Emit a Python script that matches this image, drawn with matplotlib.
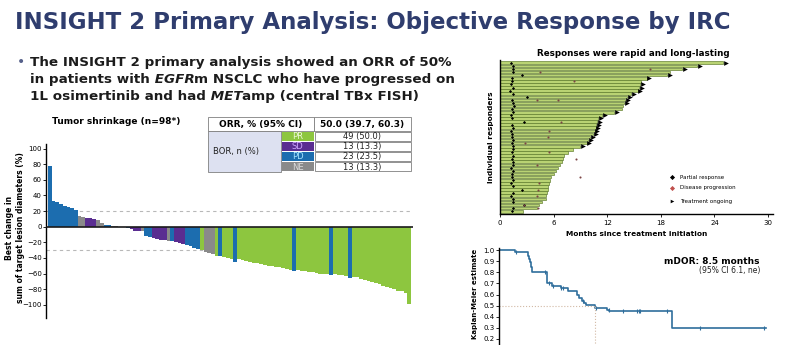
import matplotlib
matplotlib.use('Agg')
import numpy as np
import matplotlib.pyplot as plt
from matplotlib.patches import Rectangle

W, H = 785, 345

# best overall response and best % change in target lesions, sorted high -> low
wf_bor = (['PD'] * 8 + ['NE', 'NE', 'SD', 'SD', 'SD', 'NE', 'NE', 'PD', 'PD',
           'NE', 'NE', 'NE', 'NE', 'PD', 'SD', 'SD', 'SD', 'NE', 'PD', 'PD',
           'SD', 'SD', 'SD', 'SD', 'NE', 'PD', 'SD', 'SD', 'SD', 'PD', 'PD',
           'PD', 'PD', 'PR', 'NE', 'NE', 'NE', 'PR', 'PD', 'PR', 'PR', 'PR',
           'PD'] + ['PR'] * 15 + ['PD'] + ['PR'] * 9 + ['PD'] + ['PR'] * 4
          + ['PD'] + ['PR'] * 16)
wf_change = [78, 33, 32, 29, 26, 25, 24, 22, 14, 13, 11, 11, 10, 8, 5, 2, 2,
             1, 0.5, -0.5, -1, -2, -3, -5, -5, -6, -12, -13, -15, -16, -17,
             -17, -18, -18, -20, -21, -22, -24, -25, -27, -28, -30, -32, -34,
             -35, -37, -38, -39, -40, -41, -45, -42, -43, -44, -45, -46, -47,
             -48, -49, -50, -50, -51, -52, -53, -54, -55, -57, -56, -57, -57,
             -58, -58, -59, -60, -60, -61, -62, -61, -62, -62, -63, -66, -64,
             -65, -67, -68, -70, -71, -72, -74, -76, -77, -78, -80, -82, -83,
             -85, -99]
bor_order = ['PR', 'SD', 'PD', 'NE']
orr_ci = '50.0 (39.7, 60.3)'

# duration of treatment per responder (months), top -> bottom
dur_months = [25.0, 22.1, 20.4, 19.0, 18.7, 16.4, 15.8, 15.7, 15.6, 15.4,
              14.7, 14.2, 14.0, 13.9, 13.8, 13.7, 12.8, 11.4, 11.0, 10.9,
              10.8, 10.7, 10.6, 10.4, 10.1, 9.9, 9.7, 9.0, 8.2, 7.6, 7.2, 7.0,
              6.9, 6.7, 6.5, 6.3, 6.1, 5.7, 5.6, 5.5, 5.4, 5.4, 5.3, 5.2, 5.1,
              4.7, 4.4, 4.1, 2.6]
ongoing = [1, 1, 1, 0, 1, 1, 0, 1, 1, 1, 1, 1, 1, 1, 0, 0, 1, 1, 1, 1, 1, 1,
           1, 1, 1, 1, 1, 1] + [0] * 21
pr_time = [1.2, 1.4, 1.4, 1.4, 2.5, 1.3, 1.3, 1.2, 1.4, 1.1, 1.4, 3.0, 1.3,
           1.5, 1.6, 1.3, 1.5, 1.2, 1.3, 2.7, 1.3, 1.4, 1.2, 1.3, 1.3, 1.4,
           1.3, 1.4, 1.5, 1.3, 1.4, 1.3, 1.4, 1.4, 1.2, 1.4, 1.3, 1.3, 1.4,
           1.2, 1.4, 2.5, 1.4, 1.2, 1.5, 1.5, 2.7, 1.4, 1.3]
prog_row = [2, 3, 6, 12, 12, 19, 22, 24, 26, 29, 31, 33, 37, 39, 41, 43, 46, 47]
prog_time = [16.8, 4.5, 8.3, 4.1, 6.5, 6.8, 5.5, 5.4, 2.8, 5.5, 8.5, 4.1, 9.0,
             4.4, 4.3, 4.1, 2.7, 4.2]

# Kaplan-Meier duration of response
km_t = [0, 1.42, 2.6, 2.69, 2.74, 2.83, 2.9, 2.95, 4.22, 4.28, 4.67, 5.46,
        6.14, 6.9, 7.1, 7.32, 7.5, 7.7, 8.5, 9.54, 9.77, 15.3]
km_s = [1.0, 0.98, 0.95, 0.92, 0.89, 0.85, 0.82, 0.80, 0.75, 0.70, 0.68,
        0.66, 0.63, 0.60, 0.57, 0.54, 0.52, 0.51, 0.48, 0.46, 0.45, 0.30]
km_end = 23.6
km_censor = [1.5, 4.1, 4.45, 4.75, 5.5, 5.7, 7.4, 8.6, 9.7, 11.0, 12.2, 12.4,
             12.5, 14.9, 17.8, 23.4]
km_median = 8.5
km_ci = '(95% CI 6.1, ne)'

bor_colors = {'PR': '#8dc63f', 'SD': '#5a2d91', 'PD': '#1c6daf', 'NE': '#8a8a8a'}
navy = '#2f3d6e'


def rect(l, t, r, b):
    return [l / W, 1 - b / H, (r - l) / W, (b - t) / H]


fig = plt.figure(figsize=(W / 100, H / 100), dpi=100)

# ---- waterfall ----
ax1 = fig.add_axes(rect(46, 144, 413, 318))
ax1.patch.set_alpha(0)
xs = np.arange(len(wf_change))
ax1.bar(xs, wf_change, width=1.0, linewidth=0, zorder=2,
        color=[bor_colors[b] for b in wf_bor])
for yref in (20, -30):
    ax1.axhline(yref, color='#b8b8b8', lw=0.8, ls=(0, (3, 3)), zorder=1)
ax1.axhline(0, color='#1a1a1a', lw=1.2, zorder=3)
ax1.set_xlim(-1.05, len(wf_change) + 0.05)
ax1.set_ylim(-117, 106)
ax1.set_yticks(range(-100, 101, 20))
ax1.set_xticks([])
ax1.tick_params(axis='y', labelsize=5, length=2, width=0.6, pad=1)
for s in ('top', 'right', 'bottom'):
    ax1.spines[s].set_visible(False)
ax1.spines['left'].set_linewidth(1.0)

# ---- swimmer ----
ax2 = fig.add_axes(rect(500, 60, 773, 214))
rows = np.arange(len(dur_months))
ax2.barh(rows, dur_months, height=0.84, color='#b9d373',
         edgecolor='#5a7828', linewidth=0.45)
for r, d, o in zip(rows, dur_months, ongoing):
    if o:
        ax2.plot(d + 0.3, r, marker='>', ms=3.4, color='black', mew=0)
ax2.plot(pr_time, rows, 'D', ms=1.6, color='black', mew=0)
ax2.plot(prog_time, prog_row, 'o', ms=1.5, color='#7d4545', mew=0)
ax2.set_xlim(0, 30.56)
ax2.set_ylim(len(dur_months) - 0.1, -0.9)
ax2.set_xticks(range(0, 31, 6))
ax2.set_yticks([])
ax2.tick_params(axis='x', labelsize=5, length=2, width=0.6, pad=2)
for s in ('top', 'right'):
    ax2.spines[s].set_visible(False)
ax2.spines['left'].set_linewidth(1.0)
ax2.spines['bottom'].set_linewidth(1.0)

leg = [('D', 'black', 'Partial response', 0.24),
       ('D', '#c0504d', 'Disease progression', 0.169),
       ('>', 'black', 'Treatment ongoing', 0.084)]
for m, c, lab, yy in leg:
    ax2.plot(0.63, yy, marker=m, ms=2.6, color=c, mew=0,
             transform=ax2.transAxes)
    ax2.text(0.66, yy, lab, fontsize=4, va='center', transform=ax2.transAxes)

# ---- Kaplan-Meier ----
ax3 = fig.add_axes(rect(499, 248, 785, 361))
ax3.patch.set_alpha(0)
km_col = '#2f6e9c'
ax3.step(km_t + [km_end], km_s + [km_s[-1]], where='post', color=km_col, lw=1.2)
idx = np.searchsorted(km_t, km_censor, side='right') - 1
ax3.plot(km_censor, np.array(km_s)[idx], '|', ms=3.5, mew=0.8, color=km_col)
ax3.plot([0, km_median], [0.5, 0.5], ls=':', color='#d2b9a5', lw=0.8)
ax3.plot([km_median, km_median], [0, 0.5], ls=':', color='#d2b9a5', lw=0.8)
ax3.set_xlim(0, 25.3)
ax3.set_ylim(0, 1.02)
km_ticks = np.arange(0.2, 1.01, 0.1)
ax3.set_yticks(km_ticks)
ax3.set_yticklabels([f'{v:.1f}' for v in km_ticks])
ax3.set_xticks([])
ax3.tick_params(axis='y', labelsize=5, length=2, width=0.6, pad=1)
for s in ('top', 'right'):
    ax3.spines[s].set_visible(False)
ax3.spines['left'].set_linewidth(1.0)

# ---- slide text and table ----
ax0 = fig.add_axes([0, 0, 1, 1])
ax0.set_axis_off()
ax0.set_xlim(0, W)
ax0.set_ylim(H, 0)

ax0.text(15, 29, 'INSIGHT 2 Primary Analysis: Objective Response by IRC',
         fontsize=16.5, fontweight='bold', color=navy, va='baseline')

renderer = fig.canvas.get_renderer()


def runs(x, y, parts, **kw):
    for txt, style in parts:
        t = ax0.text(x, y, txt, fontstyle=style, va='baseline', **kw)
        x += t.get_window_extent(renderer=renderer).width


bullet_kw = dict(fontsize=9.7, fontweight='bold', color='#1c1c1c')
ax0.text(17, 66, '\u2022', fontsize=10, color='#55608a', va='baseline')
runs(30, 66, [('The INSIGHT 2 primary analysis showed an ORR of 50%', 'normal')],
     **bullet_kw)
runs(30, 83, [('in patients with', 'normal'), (' EGFR', 'italic'),
              ('m NSCLC who have progressed on', 'normal')], **bullet_kw)
runs(30, 100, [('1L osimertinib and had', 'normal'), (' MET', 'italic'),
               ('amp (central TBx FISH)', 'normal')], **bullet_kw)

ax0.text(116, 122, f'Tumor shrinkage (n={len(wf_change)}*)', fontsize=6.5,
         fontweight='bold', ha='center', va='center')
ax0.text(15, 228, 'Best change in\nsum of target lesion diameters (%)',
         fontsize=5.5, fontweight='bold', rotation=90, ha='center',
         va='center', multialignment='center', linespacing=1.2)

# response table
edge = '#808080'
ax0.add_patch(Rectangle((208, 117), 106, 14, fc='white', ec=edge, lw=0.6))
ax0.add_patch(Rectangle((314, 117), 97, 14, fc='white', ec=edge, lw=0.6))
ax0.text(261, 124.5, 'ORR, % (95% CI)', fontsize=6.5, fontweight='bold',
         ha='center', va='center')
ax0.text(362, 124.5, orr_ci, fontsize=6.5, fontweight='bold',
         ha='center', va='center')
ax0.add_patch(Rectangle((208, 131), 73, 41, fc='#dde1f1', ec=edge, lw=0.6))
ax0.text(213, 151.5, 'BOR, n (%)', fontsize=6, ha='left', va='center',
         color='#222222')
label_col = {'PR': '#eef7da', 'SD': '#cfa8ff', 'PD': '#a8e4ff', 'NE': '#dddddd'}
row_h = 41 / 4
for k, b in enumerate(bor_order):
    y0 = 131 + k * row_h
    n = wf_bor.count(b)
    ax0.add_patch(Rectangle((281.5, y0 + 0.6), 32, row_h - 1.2,
                            fc=bor_colors[b], ec='none'))
    ax0.text(297.5, y0 + row_h / 2 + 0.3, b, fontsize=6, color=label_col[b],
             ha='center', va='center')
    ax0.add_patch(Rectangle((315, y0 + 0.6), 96, row_h - 1.2, fc='white',
                            ec=edge, lw=0.6))
    ax0.text(362, y0 + row_h / 2 + 0.3,
             f'{n} ({100 * n / len(wf_bor):.1f})', fontsize=6,
             color='#222222', ha='center', va='center')

ax0.text(633, 54, 'Responses were rapid and long-lasting', fontsize=6.3,
         fontweight='bold', ha='center', va='center')
ax0.text(637, 234, 'Months since treatment initiation', fontsize=5.3,
         fontweight='bold', ha='center', va='center')
ax0.text(491, 137, 'Individual responders', fontsize=5.3, fontweight='bold',
         rotation=90, ha='center', va='center')

ax0.text(760, 261, f'mDOR: {km_median} months', fontsize=6.5,
         fontweight='bold', ha='right', va='center')
ax0.text(760, 271, km_ci, fontsize=5.5, ha='right', va='center',
         color='#222222')
ax0.text(475, 294, 'Kaplan-Meier estimate', fontsize=5, fontweight='bold',
         rotation=90, ha='center', va='center')

fig.savefig('out.png', dpi=100)
